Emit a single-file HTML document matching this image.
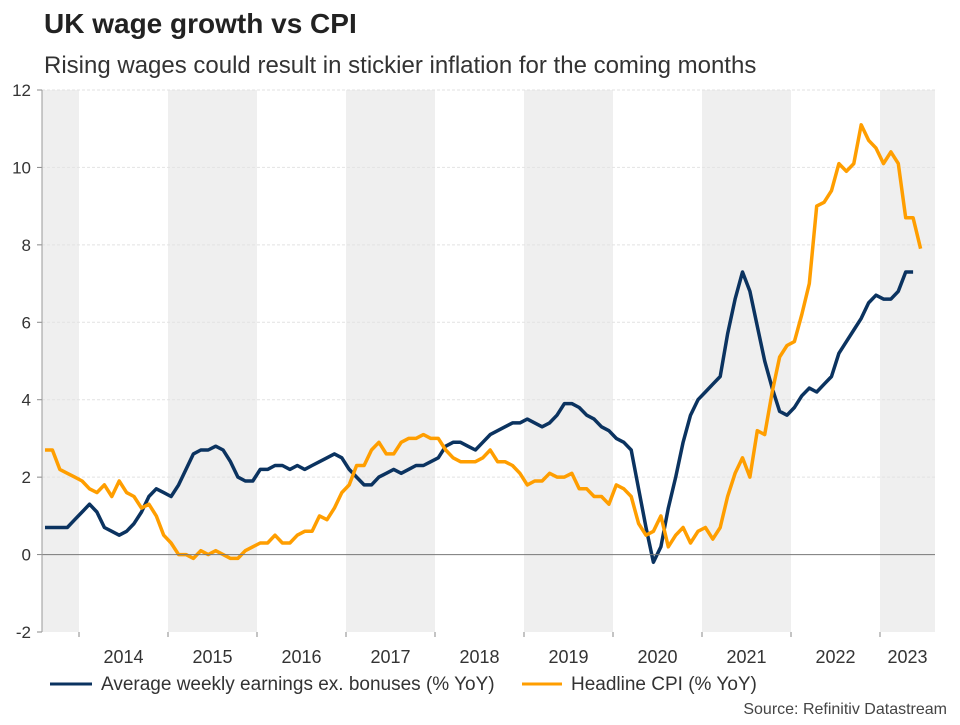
<!DOCTYPE html>
<html><head><meta charset="utf-8"><style>
body{margin:0;background:#fff;font-family:"Liberation Sans",Arial,sans-serif;}
svg text{font-family:"Liberation Sans",Arial,sans-serif;}
</style></head><body>
<svg id="c" width="960" height="720" xmlns="http://www.w3.org/2000/svg">
<text x="44" y="33" font-size="28" font-weight="bold" fill="#222">UK wage growth vs CPI</text>
<text x="44" y="73" font-size="24" fill="#333">Rising wages could result in stickier inflation for the coming months</text>
<g id="bands"></g><g id="grid"></g><g id="lines"></g><g id="axes"></g>
<g>
<line x1="50" y1="684" x2="92" y2="684" stroke="#0b3360" stroke-width="3"/>
<text x="101" y="690" font-size="19" fill="#333">Average weekly earnings ex. bonuses (% YoY)</text>
<line x1="522" y1="684" x2="562" y2="684" stroke="#ff9e00" stroke-width="3"/>
<text x="571" y="690" font-size="19" fill="#333">Headline CPI (% YoY)</text>
</g>
<text x="947" y="714" font-size="16" fill="#444" text-anchor="end">Source: Refinitiv Datastream</text>
</svg>
<script>
const years=[2014,2015,2016,2017,2018,2019,2020,2021,2022,2023];
const yTicks=[-2,0,2,4,6,8,10,12];
const cpi=[2.7,2.7,2.2,2.1,2.0,1.9,1.7,1.6,1.8,1.5,1.9,1.6,1.5,1.2,1.3,1.0,0.5,0.3,0.0,0.0,-0.1,0.1,0.0,0.1,0.0,-0.1,-0.1,0.1,0.2,0.3,0.3,0.5,0.3,0.3,0.5,0.6,0.6,1.0,0.9,1.2,1.6,1.8,2.3,2.3,2.7,2.9,2.6,2.6,2.9,3.0,3.0,3.1,3.0,3.0,2.7,2.5,2.4,2.4,2.4,2.5,2.7,2.4,2.4,2.3,2.1,1.8,1.9,1.9,2.1,2.0,2.0,2.1,1.7,1.7,1.5,1.5,1.3,1.8,1.7,1.5,0.8,0.5,0.6,1.0,0.2,0.5,0.7,0.3,0.6,0.7,0.4,0.7,1.5,2.1,2.5,2.0,3.2,3.1,4.2,5.1,5.4,5.5,6.2,7.0,9.0,9.1,9.4,10.1,9.9,10.1,11.1,10.7,10.5,10.1,10.4,10.1,8.7,8.7,7.9];
const wage=[0.7,0.7,0.7,0.7,0.9,1.1,1.3,1.1,0.7,0.6,0.5,0.6,0.8,1.1,1.5,1.7,1.6,1.5,1.8,2.2,2.6,2.7,2.7,2.8,2.7,2.4,2.0,1.9,1.9,2.2,2.2,2.3,2.3,2.2,2.3,2.2,2.3,2.4,2.5,2.6,2.5,2.2,2.0,1.8,1.8,2.0,2.1,2.2,2.1,2.2,2.3,2.3,2.4,2.5,2.8,2.9,2.9,2.8,2.7,2.9,3.1,3.2,3.3,3.4,3.4,3.5,3.4,3.3,3.4,3.6,3.9,3.9,3.8,3.6,3.5,3.3,3.2,3.0,2.9,2.7,1.7,0.7,-0.2,0.2,1.2,2.0,2.9,3.6,4.0,4.2,4.4,4.6,5.7,6.6,7.3,6.8,5.9,5.0,4.3,3.7,3.6,3.8,4.1,4.3,4.2,4.4,4.6,5.2,5.5,5.8,6.1,6.5,6.7,6.6,6.6,6.8,7.3,7.3];
const NS="http://www.w3.org/2000/svg";
const L=42,R=935,T=90,B=632,yMin=-2,yMax=12;
const y=v=>B-(v-yMin)/(yMax-yMin)*(B-T);
const yearX=yr=>79+(yr-2014)*89;
const mx=i=>45+i*7.42;
function mk(tag,attrs,parent){const e=document.createElementNS(NS,tag);for(const k in attrs)e.setAttribute(k,attrs[k]);document.getElementById(parent).appendChild(e);return e;}
const bandYears=[2013,2015,2017,2019,2021,2023];
bandYears.forEach(yr=>{const x0=Math.max(L,yearX(yr)),x1=Math.min(R,yearX(yr+1));
const r=mk('rect',{x:x0,y:T,width:x1-x0,height:B-T,fill:'#efefef'},'bands');

});
yTicks.forEach(v=>{if(v!==0&&v!==yMin){const g=mk('line',{x1:L,x2:R,y1:y(v),y2:y(v),stroke:'#e2e2e2','stroke-dasharray':'3,2','stroke-width':1},'grid');

}
const t=mk('text',{x:31,y:y(v)+6,'font-size':17,fill:'#333','text-anchor':'end'},'axes');t.textContent=v;


const tk=mk('line',{x1:L-5,x2:L,y1:y(v),y2:y(v),stroke:'#888'},'axes');

});
const za=mk('line',{x1:L,x2:R,y1:y(0),y2:y(0),stroke:'#777','stroke-width':1},'axes');


const ya=mk('line',{x1:L,x2:L,y1:T,y2:B,stroke:'#999'},'axes');


years.forEach(yr=>{const t=mk('text',{x:(yearX(yr)+Math.min(R,yearX(yr+1)))/2,y:663,'font-size':18,fill:'#333','text-anchor':'middle'},'axes');t.textContent=yr;


const tk=mk('line',{x1:yearX(yr),x2:yearX(yr),y1:B,y2:B+5,stroke:'#888'},'axes');

});
function line(data,color,name){const d=data.map((v,i)=>(i?'L':'M')+mx(i).toFixed(1)+','+y(v).toFixed(1)).join('');
const p=mk('path',{d:d,fill:'none',stroke:color,'stroke-width':3.5,'stroke-linejoin':'round'},'lines');

}
line(wage,'#0b3360','wage-growth-line');
line(cpi,'#ff9e00','cpi-line');
</script>
</body></html>
